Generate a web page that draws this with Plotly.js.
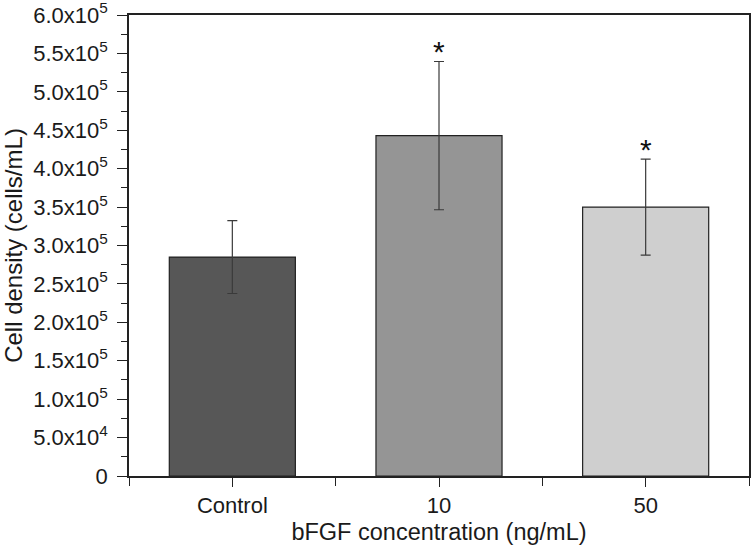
<!DOCTYPE html>
<html>
<head>
<meta charset="utf-8">
<script src="https://cdn.plot.ly/plotly-3.0.1.min.js"></script>
<style>
  html, body { margin: 0; padding: 0; background: #ffffff; }
  #chart { width: 753px; height: 549px; }
</style>
</head>
<body>
<div id="chart"></div>
<script>
// ---- data ----
const categories = ['Control', '10', '50'];
const cellDensity = [285000, 443000, 350000];
const errors = [47500, 96500, 62500];
const significant = [false, true, true];
const barColors = ['#575757', '#959595', '#cfcfcf'];

const yTickVals = [0, 50000, 100000, 150000, 200000, 250000, 300000, 350000, 400000, 450000, 500000, 550000, 600000];
const yTickText = ['0', '5.0x10<sup>4</sup>', '1.0x10<sup>5</sup>', '1.5x10<sup>5</sup>', '2.0x10<sup>5</sup>',
  '2.5x10<sup>5</sup>', '3.0x10<sup>5</sup>', '3.5x10<sup>5</sup>', '4.0x10<sup>5</sup>',
  '4.5x10<sup>5</sup>', '5.0x10<sup>5</sup>', '5.5x10<sup>5</sup>', '6.0x10<sup>5</sup>'];

const xPos = categories.map((c, i) => i);

const font = 'Liberation Sans, Arial, Helvetica, sans-serif';

const trace = {
  type: 'bar',
  x: xPos,
  y: cellDensity,
  width: 0.61,
  marker: { color: barColors, line: { color: '#222222', width: 1.2 } },
  error_y: { type: 'data', array: errors, visible: true, color: '#3a3a3a', thickness: 1.2, width: 5 },
  hoverinfo: 'skip'
};

const annotations = [];
significant.forEach((s, i) => {
  if (s) {
    annotations.push({
      x: xPos[i], y: cellDensity[i] + errors[i],
      xref: 'x', yref: 'y',
      text: '*', showarrow: false,
      font: { family: font, size: 30, color: '#111111' },
      yanchor: 'bottom', yshift: -9
    });
  }
});

const layout = {
  width: 753, height: 549,
  margin: { l: 129, r: 4, t: 15, b: 73 },
  paper_bgcolor: '#ffffff', plot_bgcolor: '#ffffff',
  showlegend: false,
  font: { family: font, color: '#1a1a1a', size: 22 },
  xaxis: {
    range: [-0.5, 2.5],
    tickmode: 'array', tickvals: xPos, ticktext: categories,
    ticks: 'outside', ticklen: 9, tickwidth: 1.2, tickcolor: '#222',
    minor: { tickmode: 'linear', tick0: -0.5, dtick: 1, ticks: 'outside', ticklen: 8, tickwidth: 1.2, tickcolor: '#222' },
    showline: true, linecolor: '#222', linewidth: 1.5, mirror: true,
    showgrid: false, zeroline: false,
    tickfont: { size: 22 },
    title: { text: 'bFGF concentration (ng/mL)', font: { size: 23.5 }, standoff: 6 }
  },
  yaxis: {
    range: [0, 600000],
    tickmode: 'array', tickvals: yTickVals, ticktext: yTickText,
    ticks: 'outside', ticklen: 10, tickwidth: 1.2, tickcolor: '#222',
    ticklabelstandoff: 5,
    ticklabeloverflow: 'allow',
    minor: { tickmode: 'linear', tick0: 0, dtick: 25000, ticks: 'outside', ticklen: 6, tickwidth: 1.2, tickcolor: '#222' },
    showline: true, linecolor: '#222', linewidth: 1.5, mirror: true,
    showgrid: false, zeroline: false,
    tickfont: { size: 22 },
    title: { text: 'Cell density (cells/mL)', font: { size: 24 }, standoff: 9 }
  },
  annotations: annotations
};

Plotly.newPlot('chart', [trace], layout, { displayModeBar: false });
</script>
</body>
</html>
